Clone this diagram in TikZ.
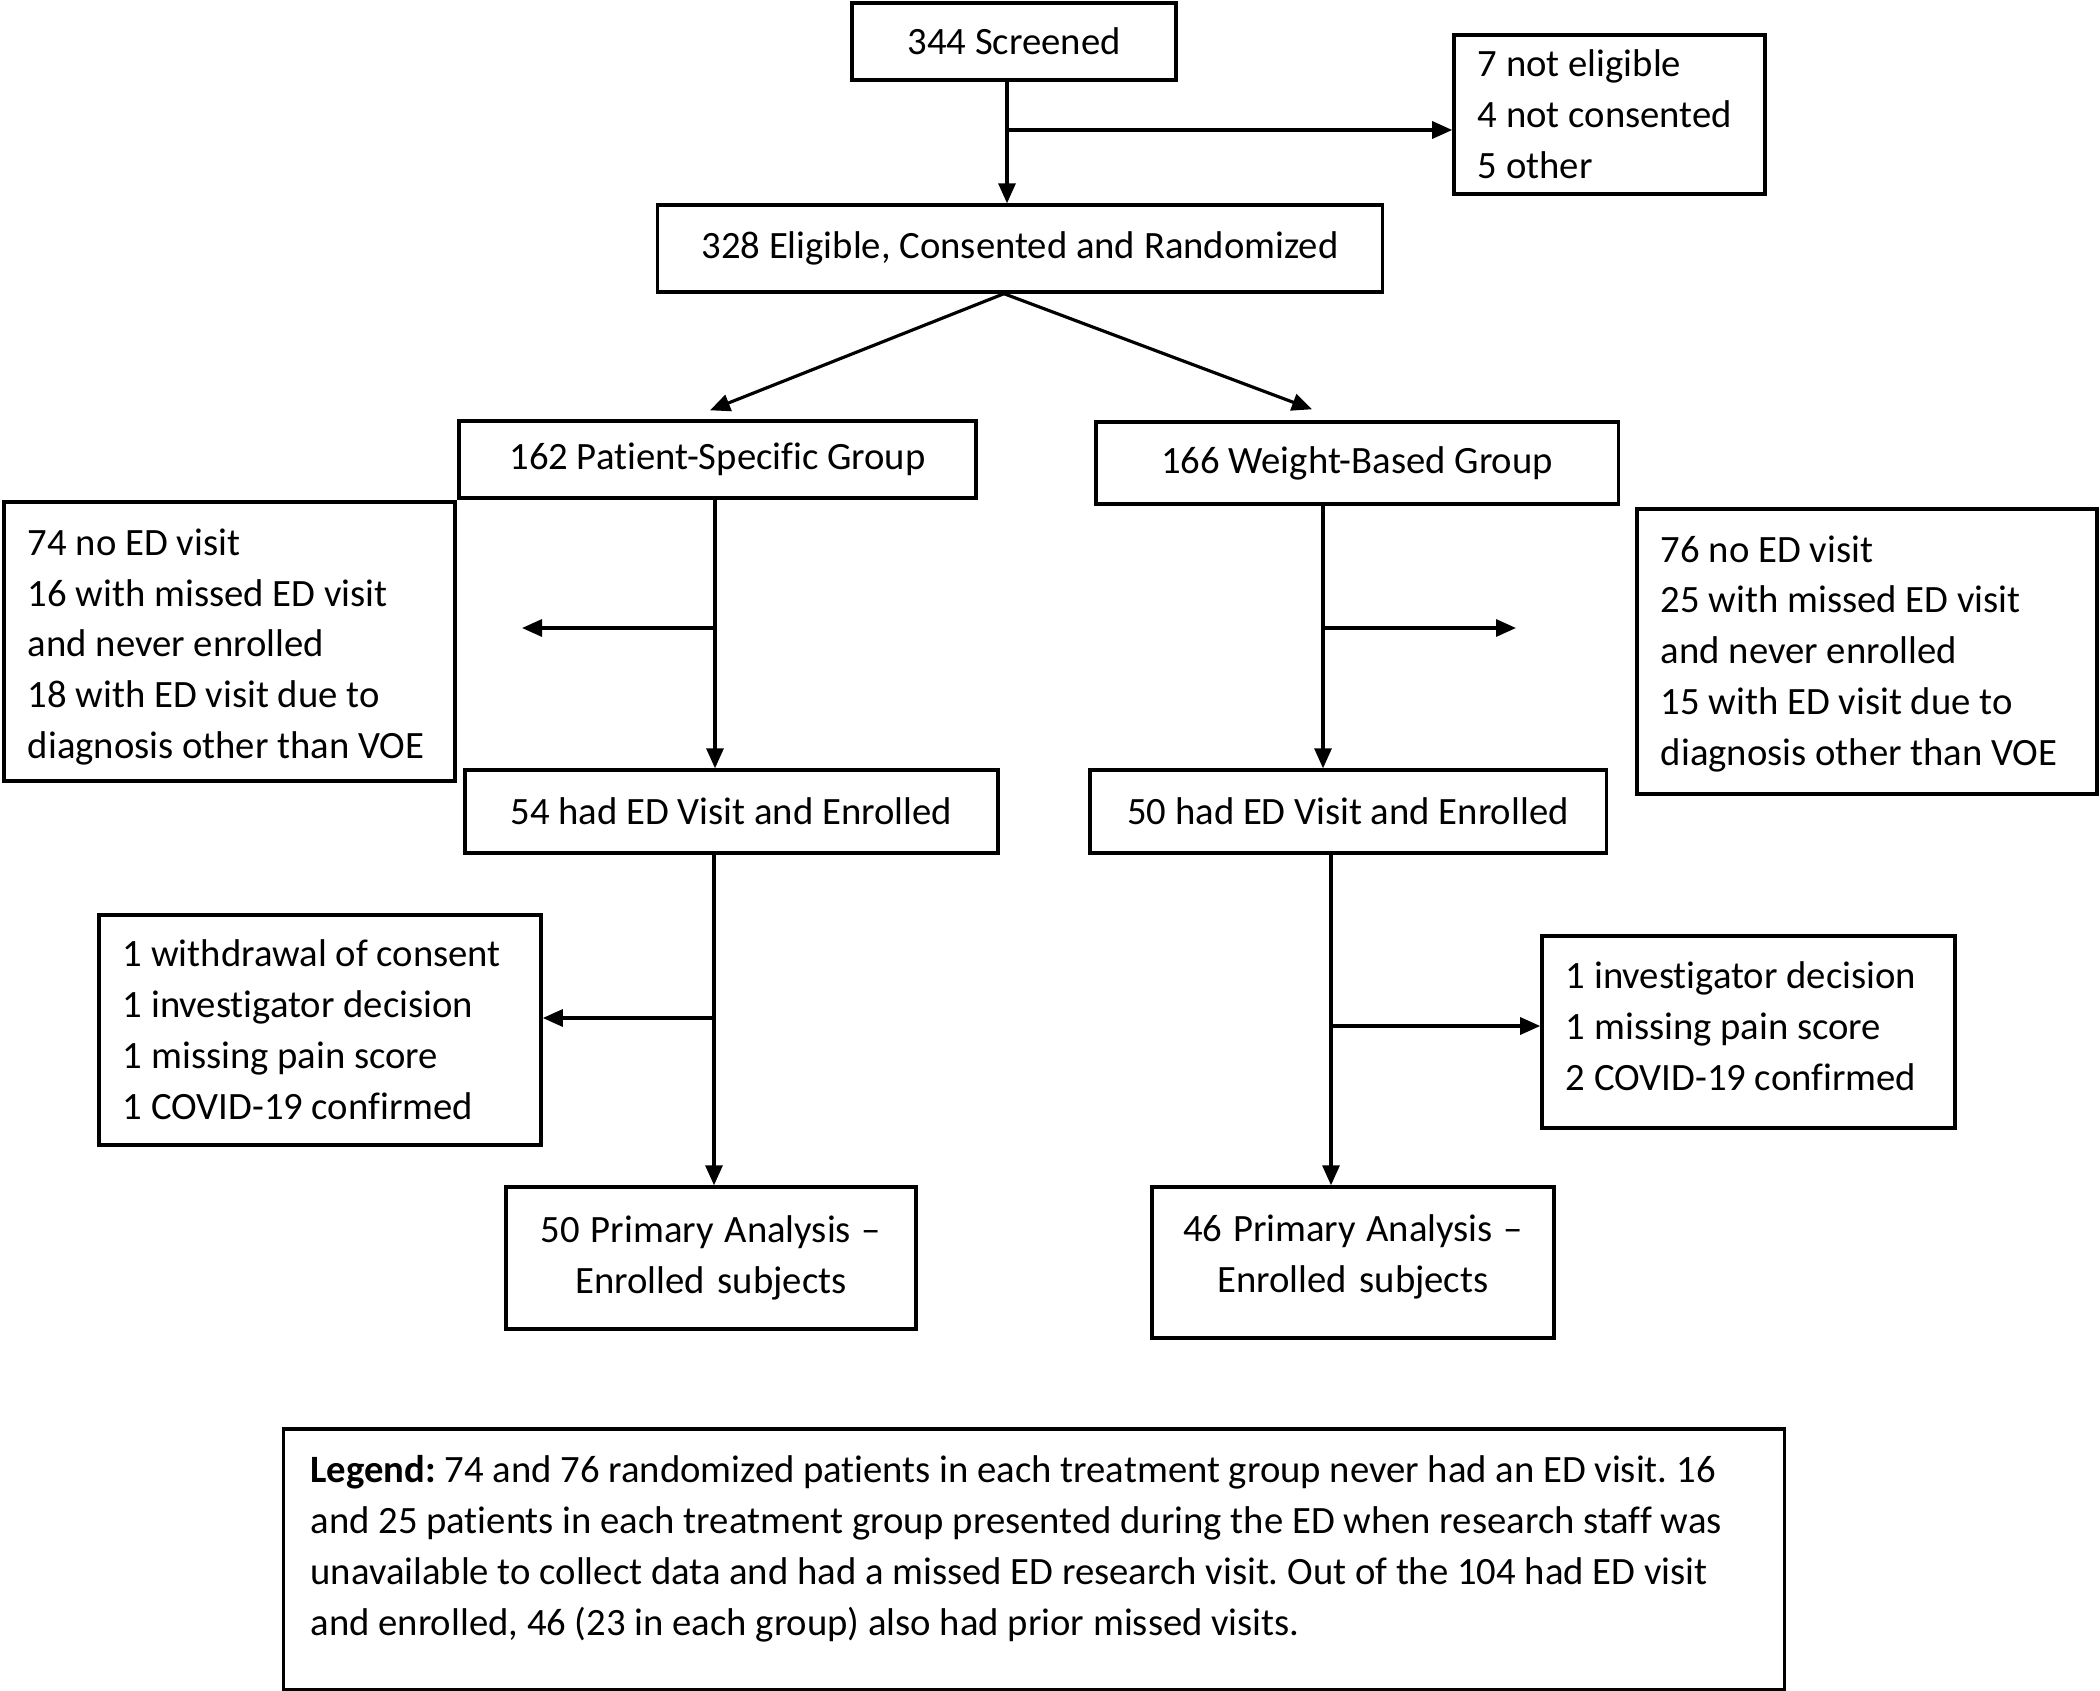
\documentclass[tikz,border=0pt]{standalone}
\usepackage{fontspec}
\setmainfont{Carlito}[Ligatures=NoCommon]
\usetikzlibrary{arrows.meta,calc}
\newcommand{\normsp}{\spaceskip=0pt\xspaceskip=0pt\frenchspacing}
\begin{document}
\begin{tikzpicture}[x=0.01cm,y=-0.01cm,
  every node/.style={font=\fontsize{11pt}{14.5pt}\selectfont},
  cbox/.style={draw,line width=0.95pt,inner sep=0pt,align=center},
  lbox/.style={draw,line width=0.95pt,inner ysep=0pt,inner xsep=0.24cm,align=flush left},
  arr/.style={line width=0.9pt,-{Triangle[length=0.2cm,width=0.17cm]}}]
\useasboundingbox (0,0) rectangle (2100,1691);

\node[cbox,minimum width=3.24cm,minimum height=0.77cm] (scr) at (1014,41.5) {344 Screened};
\node[lbox,text width=2.63cm,minimum height=1.59cm] (ex1) at (1609.5,114.5) {\normsp 7 not eligible\\4 not consented\\5 other};
\node[cbox,minimum width=7.24cm,minimum height=0.87cm] (eli) at (1020,248.5) {328 Eligible, Consented and Randomized};
\node[cbox,minimum width=5.17cm,minimum height=0.77cm] (ps) at (717.5,459.5) {162 Patient-Specific Group};
\node[cbox,minimum width=5.22cm,minimum height=0.82cm] (wb) at (1357,463) {166 Weight-Based Group};
\node[lbox,text width=4.03cm,minimum height=2.79cm] (exL) at (229.5,641.5) {\normsp 74 no ED visit\\16 with missed ED visit\\and never enrolled\\18 with ED visit due to\\diagnosis other than VOE\par\kern-0.11cm};
\node[lbox,text width=4.12cm,minimum height=2.85cm] (exR) at (1867,651.5) {\normsp 76 no ED visit\\25 with missed ED visit\\and never enrolled\\15 with ED visit due to\\diagnosis other than VOE\par\kern-0.05cm};
\node[cbox,minimum width=5.33cm,minimum height=0.83cm] (ed1) at (731.5,811.5) {54 had ED Visit and Enrolled};
\node[cbox,minimum width=5.16cm,minimum height=0.83cm] (ed2) at (1348,811.5) {50 had ED Visit and Enrolled};
\node[lbox,text width=3.94cm,minimum height=2.30cm] (exL2) at (320,1030) {\normsp 1 withdrawal of consent\\1 investigator decision\\1 missing pain score\\1 COVID-19 confirmed};
\node[lbox,text width=3.65cm,minimum height=1.92cm] (exR2) at (1748.5,1032) {\normsp 1 investigator decision\\1 missing pain score\\2 COVID-19 confirmed\par\kern0.11cm};
\node[cbox,text width=4.10cm,minimum height=1.42cm] (pa1) at (711,1258) {\normsp 50 Primary Analysis –\\Enrolled subjects};
\node[cbox,text width=4.02cm,minimum height=1.51cm] (pa2) at (1353,1262.5) {\normsp 46 Primary Analysis –\\Enrolled subjects\par\kern0.11cm};
\node[lbox,inner xsep=0.27cm,text width=14.46cm,minimum height=2.61cm] (leg) at (1034,1559.5) {\normsp\textbf{Legend:} 74 and 76 randomized patients in each treatment group never had an ED visit. 16\\and 25 patients in each treatment group presented during the ED when research staff was\\unavailable to collect data and had a missed ED research visit. Out of the 104 had ED visit\\and enrolled, 46 (23 in each group) also had prior missed visits.\par\kern0.21cm};

% connectors
\coordinate (j0) at (1007,130);
\draw[arr] (j0 |- scr.south) -- (j0 |- eli.north);
\draw[arr] (j0) -- (ex1.west |- j0);

\draw[arr] ([xshift=-0.16cm]eli.south) -- ([xshift=-0.075cm,yshift=0.09cm]ps.north);
\draw[arr] ([xshift=-0.16cm]eli.south) -- ([xshift=-0.45cm,yshift=0.11cm]wb.north);

\coordinate (jL1) at (715,628);
\coordinate (eL1) at (522,628);
\draw[arr] (jL1 |- ps.south) -- (jL1 |- ed1.north);
\draw[arr] (jL1) -- (eL1);

\coordinate (jR1) at (1323,628);
\coordinate (eR1) at (1516,628);
\draw[arr] (jR1 |- wb.south) -- (jR1 |- ed2.north);
\draw[arr] (jR1) -- (eR1);

\coordinate (jL2) at (714,1018);
\draw[arr] (jL2 |- ed1.south) -- (jL2 |- pa1.north);
\draw[arr] (jL2) -- (exL2.east |- jL2);

\coordinate (jR2) at (1331,1026);
\draw[arr] (jR2 |- ed2.south) -- (jR2 |- pa2.north);
\draw[arr] (jR2) -- (exR2.west |- jR2);
\end{tikzpicture}
\end{document}
